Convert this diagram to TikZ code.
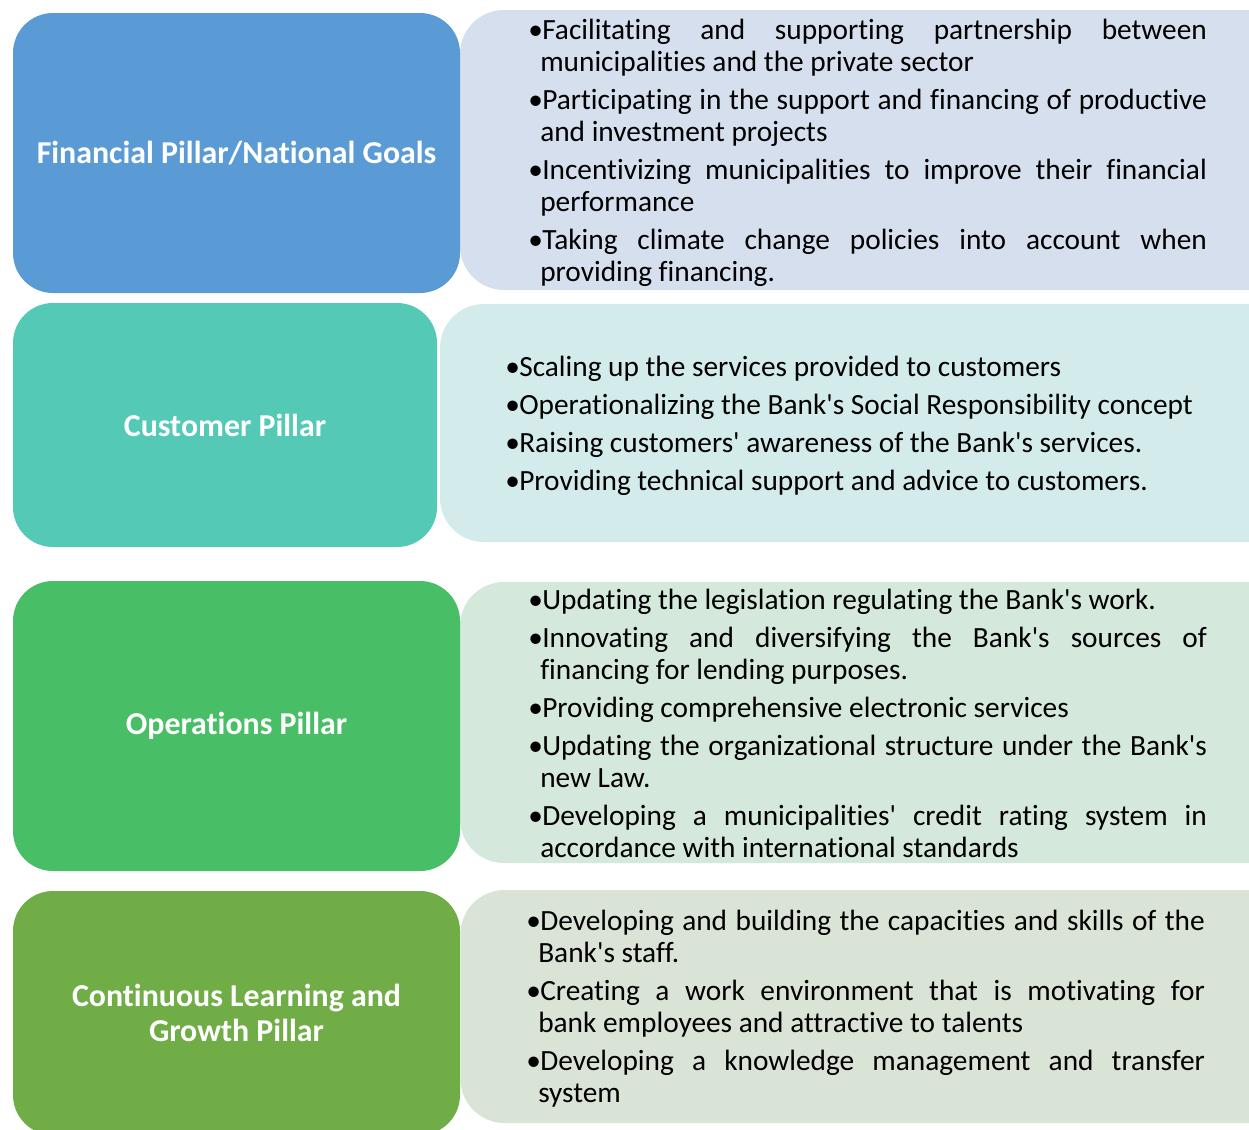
\documentclass[tikz,border=0pt]{standalone}
\usepackage{fontspec}
\setmainfont{Carlito}[Ligatures={TeXOff,NoCommon}]
\definecolor{cA}{HTML}{5B9BD5}
\definecolor{cAl}{HTML}{D5DFEE}
\definecolor{cB}{HTML}{53C9B6}
\definecolor{cBl}{HTML}{D4EBEC}
\definecolor{cC}{HTML}{48BF67}
\definecolor{cCl}{HTML}{D5E8DC}
\definecolor{cD}{HTML}{70AD47}
\definecolor{cDl}{HTML}{D9E4D6}
\newcommand{\natsp}{\spaceskip=0.226em plus 0.5em minus 0.06em\xspaceskip=0pt\frenchspacing}
\newcommand{\itm}[1]{\leftskip=0pt\rightskip=0pt\parfillskip=0pt plus 1fil\natsp\hangindent=9pt\hangafter=1\noindent\makebox[10.5pt][l]{•}#1\par}
\tikzset{
  pillar/.style={rounded corners=30pt, draw=none, text=white, align=center,
    font=\fontsize{23.9}{26.25}\selectfont\bfseries\natsp, inner sep=0pt},
  panel/.style={rounded corners=33pt, draw=none, inner sep=0pt},
  items/.style={anchor=base west, inner sep=0pt, text width=509pt, align=left,
    font=\fontsize{22}{24}\selectfont,
    execute at begin node={\setlength{\parskip}{4.5pt}\hyphenpenalty=10000\exhyphenpenalty=10000\emergencystretch=20pt\hbadness=10000\hfuzz=20pt}},
}
\begin{document}
\begin{tikzpicture}[x=0.75pt,y=-0.75pt]
\useasboundingbox (0,0) rectangle (1249,1129);
\clip (0,0) rectangle (1249,1129);
% right panels
\node[panel, fill=cAl, minimum width=630pt, minimum height=210pt] (r1) at (880,150) {};
\node[panel, fill=cBl, minimum width=645pt, minimum height=178.5pt] (r2) at (870,423) {};
\node[panel, fill=cCl, minimum width=630pt, minimum height=210.75pt] (r3) at (880,722.5) {};
\node[panel, fill=cDl, minimum width=630pt, minimum height=174.75pt] (r4) at (880.5,1006.5) {};
% pillars
\node[pillar, fill=cA, minimum width=335.25pt, minimum height=210pt] (p1) at (236.5,153) {Financial Pillar/National Goals};
\node[pillar, fill=cB, minimum width=318pt, minimum height=183pt] (p2) at (225,425) {Customer Pillar};
\node[pillar, fill=cC, minimum width=335.25pt, minimum height=217.5pt] (p3) at (236.5,726) {Operations Pillar};
\node[pillar, fill=cD, minimum width=335.25pt, minimum height=183pt] (p4) at (236.5,1013) {Continuous Learning and\\Growth Pillar};
% texts
\node[items] (t1) at (528,39) {%
\itm{Facilitating and supporting partnership between\linebreak municipalities and the private sector}
\itm{Participating in the support and financing of productive\linebreak and investment projects}
\itm{Incentivizing municipalities to improve their financial\linebreak performance}
\itm{Taking climate change policies into account when\linebreak providing financing.}};
\node[items, text width=540pt] (t2) at (505,376) {%
\itm{Scaling up the services provided to customers}
\itm{Operationalizing the Bank's Social Responsibility concept}
\itm{Raising customers' awareness of the Bank's services.}
\itm{Providing technical support and advice to customers.}};
\node[items] (t3) at (528,609) {%
\itm{Updating the legislation regulating the Bank's work.}
\itm{Innovating and diversifying the Bank's sources of\linebreak financing for lending purposes.}
\itm{Providing comprehensive electronic services}
\itm{Updating the organizational structure under the Bank's\linebreak new Law.}
\itm{Developing a municipalities' credit rating system in\linebreak accordance with international standards}};
\node[items] (t4) at (526,930) {%
\itm{Developing and building the capacities and skills of the\linebreak Bank's staff.}
\itm{Creating a work environment that is motivating for\linebreak bank employees and attractive to talents}
\itm{Developing a knowledge management and transfer\linebreak system}};
\end{tikzpicture}
\end{document}
